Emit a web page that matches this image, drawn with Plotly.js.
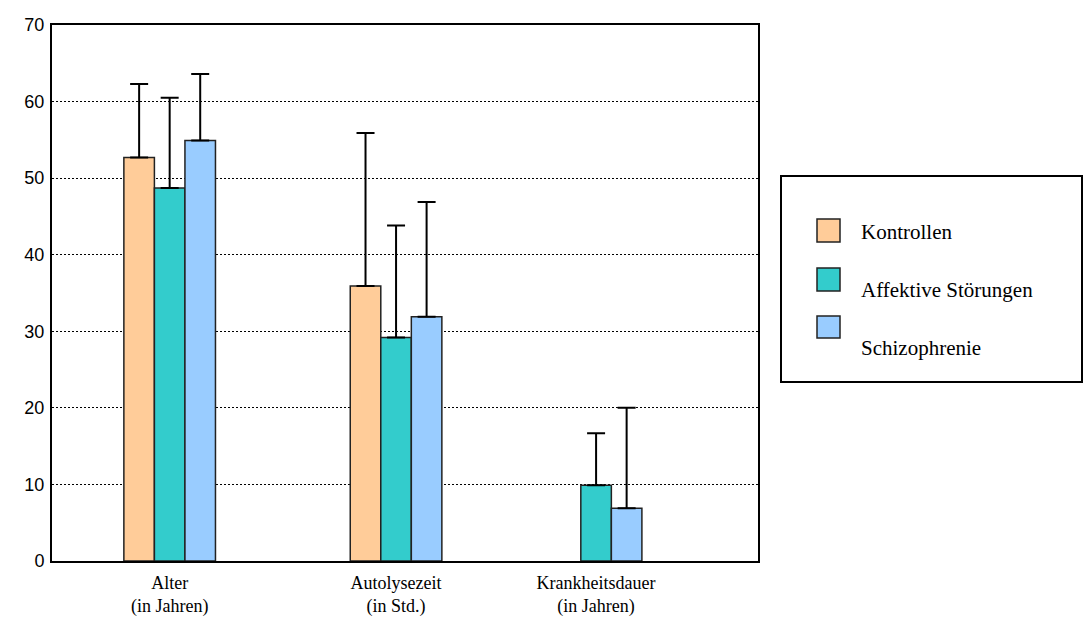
<!DOCTYPE html>
<html>
<head>
<meta charset="utf-8">
<script src="https://cdn.plot.ly/plotly-3.0.1.min.js"></script>
<style>html,body{margin:0;padding:0;background:#fff;}</style>
</head>
<body>
<div id="chart" style="width:1083px;height:628px;"></div>
<script>
// ---- data ----
const categories = ["Alter<br>(in Jahren)", "Autolysezeit<br>(in Std.)", "Krankheitsdauer<br>(in Jahren)"];
const groupPositions = [0.5, 1.462, 2.312];
const seriesNames = ["Kontrollen", "Affektive Störungen", "Schizophrenie"];
const kontrollen = [52.7, 35.9, null];
const kontrollenErr = [9.6, 20.0, null];
const affektive = [48.7, 29.2, 9.9];
const affektiveErr = [11.8, 14.6, 6.8];
const schizophrenie = [54.9, 31.9, 6.9];
const schizophrenieErr = [8.7, 15.0, 13.1];
const colors = ["#FFCC99", "#33CCCC", "#99CCFF"];
const yTicks = [0, 10, 20, 30, 40, 50, 60, 70];

// ---- layout helpers ----
const W = 1083, H = 628;
const plotL = 52, plotR = 758, plotT = 25, plotB = 561;
const px = p => (p - plotL) / (plotR - plotL);
const py = p => (plotB - p) / (plotB - plotT);
const SERIF = "'Liberation Serif', 'Times New Roman', Times, serif";
const SANS = "'Liberation Sans', Arial, sans-serif";

const values = [kontrollen, affektive, schizophrenie];
const errs = [kontrollenErr, affektiveErr, schizophrenieErr];

const traces = seriesNames.map((name, i) => ({
  type: "bar",
  name: name,
  x: groupPositions,
  y: values[i],
  marker: {color: colors[i], line: {color: "#222", width: 1.5}},
  error_y: {
    type: "data", symmetric: false,
    array: errs[i], arrayminus: errs[i].map(v => v === null ? null : 0),
    color: "#000", thickness: 2, width: 9
  },
  hoverinfo: "x+y"
}));

// manual legend
const legendBox = {x0: 781, x1: 1082, y0: 176, y1: 382};
const legendSquaresY = [[219, 242], [268, 291], [316, 338]];
const legendTextY = [232, 290, 348];
const shapes = [{
  type: "rect", xref: "paper", yref: "paper",
  x0: px(legendBox.x0), x1: px(legendBox.x1), y0: py(legendBox.y1), y1: py(legendBox.y0),
  line: {color: "#000", width: 2}, fillcolor: "rgba(0,0,0,0)"
}];
const annotations = [];
seriesNames.forEach((name, i) => {
  shapes.push({
    type: "rect", xref: "paper", yref: "paper",
    x0: px(817), x1: px(840), y0: py(legendSquaresY[i][1]), y1: py(legendSquaresY[i][0]),
    line: {color: "#222", width: 1.5}, fillcolor: colors[i]
  });
  annotations.push({
    xref: "paper", yref: "paper", x: px(859), y: py(legendTextY[i]),
    xanchor: "left", yanchor: "middle", showarrow: false, text: name,
    font: {family: SERIF, size: 21, color: "#000"}
  });
});

const layout = {
  width: W, height: H,
  margin: {l: plotL, r: W - plotR, t: plotT, b: H - plotB, pad: 0},
  paper_bgcolor: "#fff", plot_bgcolor: "#fff",
  showlegend: false,
  barmode: "group",
  bargap: 0.542,
  bargroupgap: 0,
  xaxis: {
    type: "linear", range: [0, 3],
    tickmode: "array", tickvals: groupPositions, ticktext: categories,
    ticks: "", showgrid: false, zeroline: false,
    showline: true, linecolor: "#000", linewidth: 2, mirror: true,
    tickfont: {family: SERIF, size: 18, color: "#000"},
    ticklabelstandoff: 4,
    fixedrange: true
  },
  yaxis: {
    range: [0, 70], tickmode: "array", tickvals: yTicks,
    ticks: "", showgrid: true, gridcolor: "#000", gridwidth: 1.2, griddash: "2px,2px",
    zeroline: false,
    showline: true, linecolor: "#000", linewidth: 2, mirror: true,
    tickfont: {family: SANS, size: 18, color: "#000"},
    ticklabelstandoff: 2,
    fixedrange: true
  },
  shapes: shapes,
  annotations: annotations
};

Plotly.newPlot("chart", traces, layout, {displayModeBar: false, staticPlot: true});
</script>
</body>
</html>
